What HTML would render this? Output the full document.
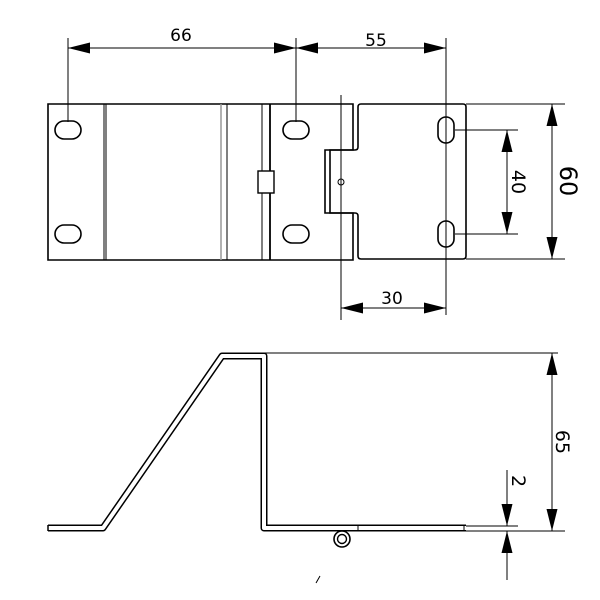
<!DOCTYPE html>
<html><head><style>
html,body{margin:0;padding:0;background:#fff;}
svg{display:block;}
text{font-family:"DejaVu Sans","Liberation Sans",sans-serif;fill:#000;}
</style></head><body>
<svg width="600" height="600" viewBox="0 0 600 600" xmlns="http://www.w3.org/2000/svg">
<defs>
<marker id="b" viewBox="0 0 10 10" preserveAspectRatio="none" refX="10" refY="5" markerWidth="22" markerHeight="11" orient="auto-start-reverse" markerUnits="userSpaceOnUse"><path d="M0,0 L10,5 L0,10 z" fill="#000"/></marker>
</defs>
<g fill="none" stroke="#000" stroke-width="1">
<line x1="68" y1="38" x2="68" y2="122"/>
<line x1="296" y1="38" x2="296" y2="122"/>
<line x1="446" y1="38" x2="446" y2="315"/>
<line x1="68" y1="48" x2="296" y2="48" marker-start="url(#b)" marker-end="url(#b)"/>
<line x1="296" y1="48" x2="446" y2="48" marker-start="url(#b)" marker-end="url(#b)"/>
<path d="M48,104 H353 V150 H325 V213 H353 V260 H48 Z" stroke-width="1.6"/>
<line x1="104" y1="104" x2="104" y2="260"/>
<line x1="106" y1="104" x2="106" y2="260"/>
<line x1="221" y1="104" x2="221" y2="260" stroke="#999" stroke-width="1.5"/>
<line x1="227" y1="104" x2="227" y2="260"/>
<line x1="262" y1="104" x2="262" y2="260"/>
<line x1="270" y1="104" x2="270" y2="260" stroke-width="1.8"/>
<rect x="258" y="171" width="16" height="22" fill="#fff" stroke-width="1.4"/>
<path d="M361,104 H463 Q466,104 466,107 V256 Q466,259 463,259 H361 Q358,259 358,256 V216 Q358,213 355,213 H330 V150 H355 Q358,150 358,147 V107 Q358,104 361,104 Z" stroke-width="1.6"/>
<line x1="341" y1="95" x2="341" y2="320"/>
<circle cx="341" cy="182" r="3"/>
<g stroke-width="1.6">
<rect x="55" y="121" width="26" height="18" rx="9"/>
<rect x="55" y="225" width="26" height="18" rx="9"/>
<rect x="283" y="121" width="26" height="18" rx="9"/>
<rect x="283" y="225" width="26" height="18" rx="9"/>
<rect x="438" y="117" width="16" height="26" rx="8"/>
<rect x="438" y="221" width="16" height="26" rx="8"/>
</g>
<line x1="455" y1="130" x2="518" y2="130"/>
<line x1="455" y1="234" x2="518" y2="234"/>
<line x1="507" y1="130" x2="507" y2="234" marker-start="url(#b)" marker-end="url(#b)"/>
<line x1="466" y1="104" x2="565" y2="104"/>
<line x1="466" y1="259" x2="565" y2="259"/>
<line x1="552" y1="104" x2="552" y2="259" marker-start="url(#b)" marker-end="url(#b)"/>
<line x1="341" y1="308" x2="446" y2="308" marker-start="url(#b)" marker-end="url(#b)"/>
<path d="M48,528 H103 L222,356 H264 V528 H466" stroke-width="7" stroke-linejoin="round"/>
<path d="M48,528 H103 L222,356 H264 V528 H466" stroke="#fff" stroke-width="4" stroke-linejoin="round"/>
<line x1="48" y1="525" x2="48" y2="531" stroke-width="1.5"/>
<line x1="264" y1="353" x2="558" y2="353"/>
<line x1="466" y1="526" x2="518" y2="526"/>
<line x1="466" y1="531" x2="565" y2="531"/>
<line x1="464" y1="525" x2="464" y2="531"/>
<line x1="358" y1="525" x2="358" y2="531"/>
<circle cx="342" cy="539" r="8" stroke-width="1.6"/>
<circle cx="342" cy="539" r="4.5" stroke-width="1.4"/>
<line x1="552" y1="353" x2="552" y2="531" marker-start="url(#b)" marker-end="url(#b)"/>
<line x1="507" y1="470" x2="507" y2="526" marker-end="url(#b)"/>
<line x1="507" y1="580" x2="507" y2="531" marker-end="url(#b)"/>
<line x1="316" y1="583" x2="320" y2="576"/>
</g>
<text x="181" y="41" font-size="17" text-anchor="middle">66</text>
<text x="376" y="46" font-size="17" text-anchor="middle">55</text>
<text x="392" y="304" font-size="17" text-anchor="middle">30</text>
<text transform="translate(512,182) rotate(90)" font-size="19" text-anchor="middle">40</text>
<text transform="translate(560,181) rotate(90)" font-size="24" text-anchor="middle">60</text>
<text transform="translate(556,442) rotate(90)" font-size="19" text-anchor="middle">65</text>
<text transform="translate(512,481) rotate(90)" font-size="19" text-anchor="middle">2</text>
</svg>
</body></html>
